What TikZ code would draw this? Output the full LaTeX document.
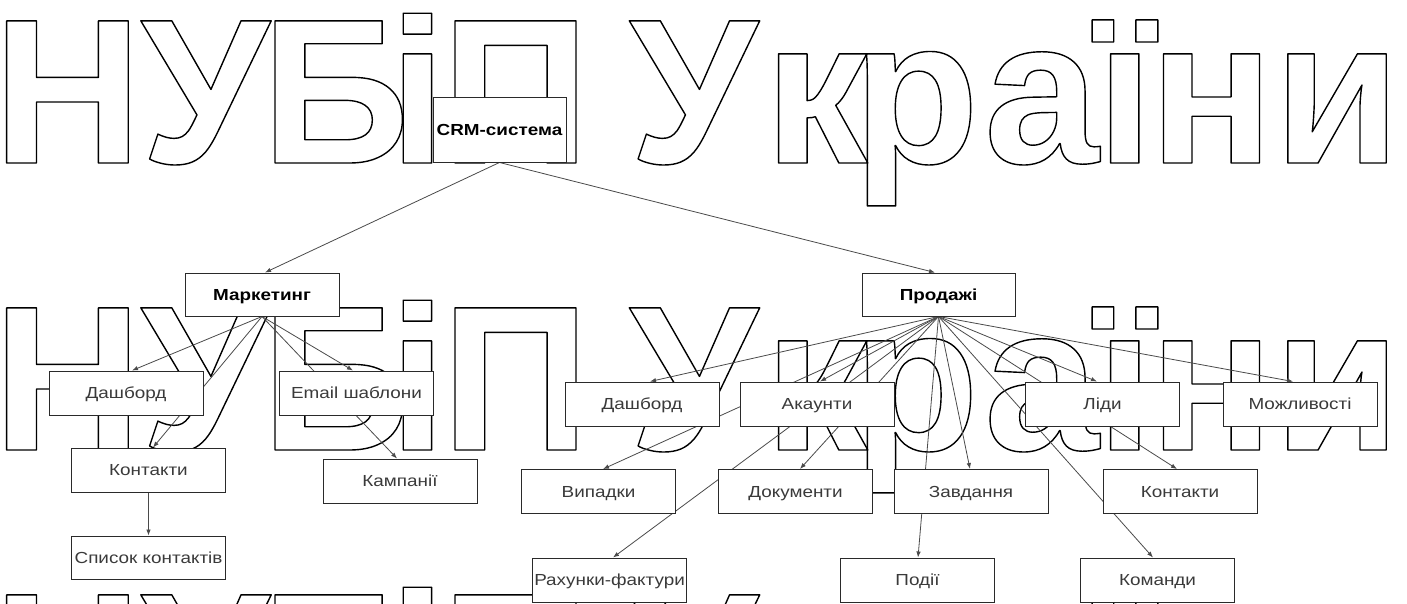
\documentclass[tikz,border=0pt]{standalone}
\usepackage{fontspec}
\setmainfont{Liberation Sans}
\newfontfamily\wmfont{Liberation Sans}
\usetikzlibrary{arrows.meta,backgrounds}

\definecolor{edgecol}{HTML}{4A4A4A}
\definecolor{boxcol}{HTML}{2A2A2A}
\definecolor{labcol}{HTML}{3A3A3A}

% hollow (stroked only) lettering for the background caption
\newcommand{\outlined}[1]{\special{pdf:literal direct 1 Tr 1.4 w 1 j}#1\special{pdf:literal direct 0 Tr}}
% slightly widened label text
\newcommand{\wide}[1]{\scalebox{1.18}[1]{#1}}

\tikzset{
  box/.style={draw=boxcol, line width=0.95pt, fill=white, minimum width=154pt,
    minimum height=44pt, inner sep=0pt, text=labcol,
    text height=11.5pt, text depth=0pt,
    font=\fontsize{16pt}{19pt}\selectfont},
  head/.style={box, text=black, font=\fontsize{16pt}{19pt}\selectfont\bfseries},
  link/.style={draw=edgecol, line width=0.8pt, -{Latex[length=6pt,width=4.5pt]}},
  wm/.style={anchor=base, inner sep=0pt,
    font=\wmfont\bfseries\fontsize{206.7pt}{210pt}\selectfont},
}

\begin{document}
\begin{tikzpicture}[x=1pt, y=-1pt]
\useasboundingbox (0,0) rectangle (1407,604);

% ---- top level
\node[head, minimum width=133pt, minimum height=65pt] (crm) at (499.5,129.5) {\wide{CRM-система}};
\node[head, minimum height=43pt] (mkt) at (262,294.5) {\wide{Маркетинг}};
\node[head, minimum width=153pt, minimum height=43pt] (sal) at (938.5,294.5) {\wide{Продажі}};

% ---- marketing branch
\node[box] (mdash)  at (126,393)     {\wide{Дашборд}};
\node[box] (memail) at (356.5,393)   {\wide{Email шаблони}};
\node[box] (mcont)  at (148.5,470)   {\wide{Контакти}};
\node[box] (mcamp)  at (400,481)     {\wide{Кампанії}};
\node[box, minimum height=43pt] (mlist) at (148.5,557.5) {\wide{Список контактів}};

% ---- sales branch
\node[box] (sdash) at (642,404)    {\wide{Дашборд}};
\node[box] (sacc)  at (817,404)    {\wide{Акаунти}};
\node[box] (slead) at (1102.5,404) {\wide{Ліди}};
\node[box] (sopp)  at (1300,404)   {\wide{Можливості}};
\node[box] (scase) at (598.5,491.5) {\wide{Випадки}};
\node[box] (sdoc)  at (795.5,491.5) {\wide{Документи}};
\node[box] (stask) at (971,491.5)   {\wide{Завдання}};
\node[box] (scont) at (1180,491.5)  {\wide{Контакти}};
\node[box] (sinv)  at (609.5,580)  {\wide{Рахунки-фактури}};
\node[box] (sevt)  at (917.5,580)  {\wide{Події}};
\node[box] (steam) at (1157.5,580) {\wide{Команди}};

\begin{pgfonlayer}{background}
  \fill[white] (0,0) rectangle (1407,604);

  % repeated hollow caption behind the chart
  \foreach \by [count=\r] in {163,450,737} {
    \foreach \ch/\cx [count=\i] in {Н/67.5, У/205, Б/335.5, і/417.5, П/515.5,
        У/693.5, к/816, р/916, а/1041.5, ї/1125, н/1211.5, и/1337} {
      \node[wm] (wm-\r-\i) at (\cx,\by) {\outlined{\ch}};
    }
  }

  % connectors
  \draw[link] (crm.south) -- ([xshift=3pt]mkt.north);
  \draw[link] (crm.south) -- ([xshift=-3.5pt]sal.north);

  \draw[link] (mkt.south) -- ([xshift=6pt]mdash.north);
  \draw[link] (mkt.south) -- ([xshift=4.5pt]mcont.north);
  \draw[link] (mkt.south) -- ([xshift=-3.5pt]memail.north);
  \draw[link] (mkt.south) -- ([xshift=-3pt]mcamp.north);
  \draw[link] (mcont.south) -- (mlist.north);

  \draw[link] (sal.south) -- ([xshift=8pt]sdash.north);
  \draw[link] (sal.south) -- ([xshift=3pt]sacc.north);
  \draw[link] (sal.south) -- ([xshift=4.5pt]scase.north);
  \draw[link] (sal.south) -- ([xshift=4.5pt]sdoc.north);
  \draw[link] (sal.south) -- ([xshift=3.5pt]sinv.north);
  \draw[link] (sal.south) -- ([xshift=-1pt]stask.north);
  \draw[link] (sal.south) -- ([xshift=0.5pt]sevt.north);
  \draw[link] (sal.south) -- ([xshift=-5.5pt]slead.north);
  \draw[link] (sal.south) -- ([xshift=-7pt]sopp.north);
  \draw[link] (sal.south) -- ([xshift=-3pt]scont.north);
  \draw[link] (sal.south) -- ([xshift=-4.5pt]steam.north);
\end{pgfonlayer}
\end{tikzpicture}
\end{document}
